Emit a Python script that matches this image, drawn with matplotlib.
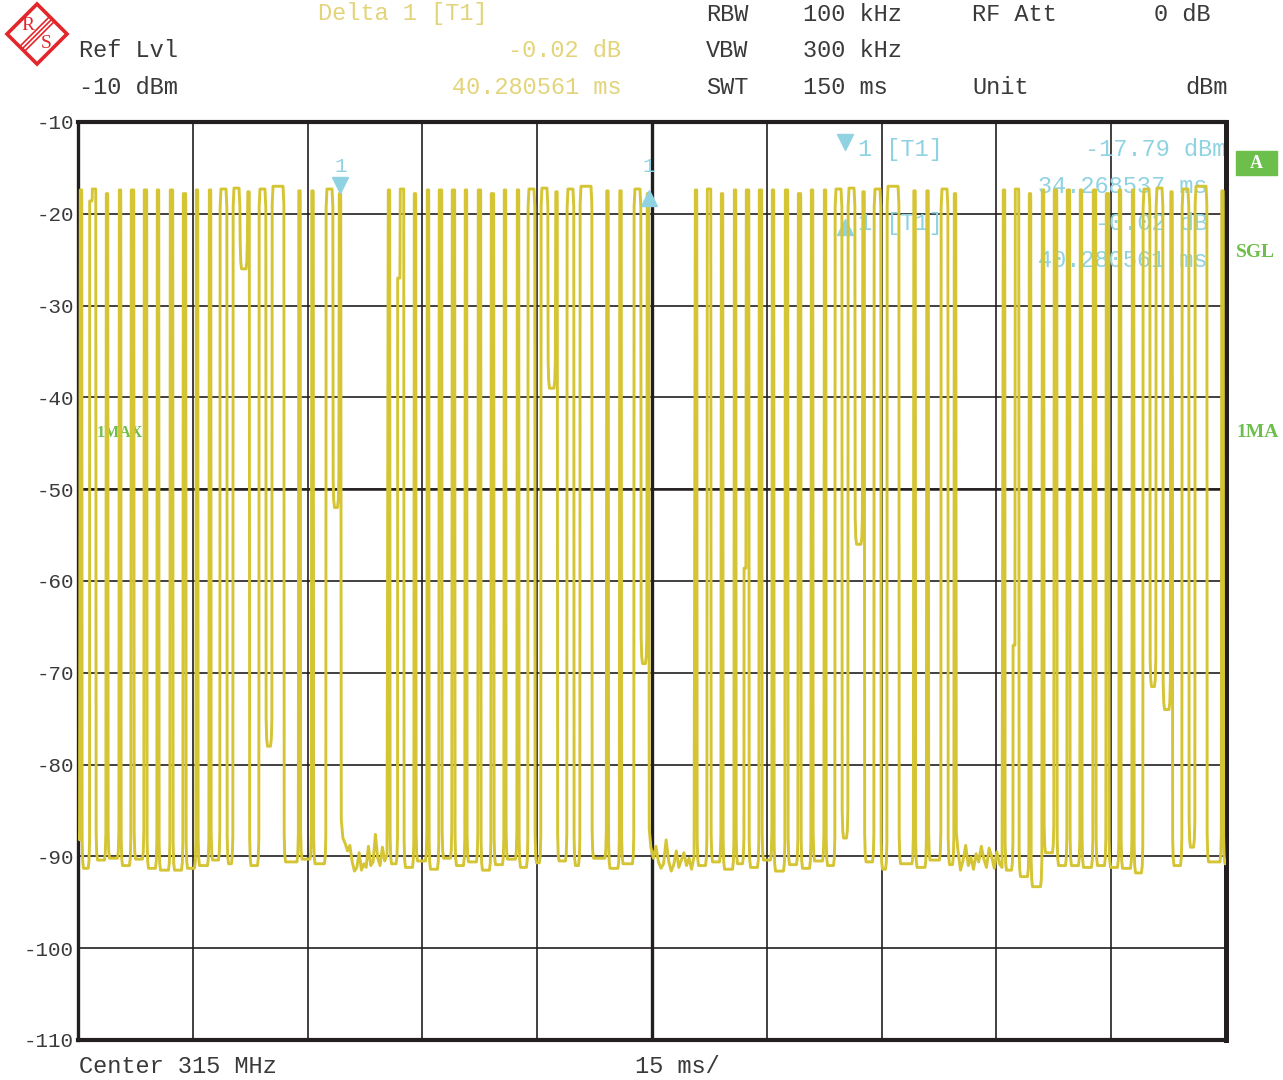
import numpy as np
import matplotlib.pyplot as plt
from matplotlib.patches import Polygon, Rectangle
from matplotlib.lines import Line2D

W, H = 1283, 1080

# sweep: 150 ms zero span, ref level -10 dBm, 100 dB range
span_ms = 150.0

# one telegram, times relative to the burst start (ms)
pulse_on = [0.13, 1.70, 3.53, 5.23, 6.79, 8.49, 10.19, 11.89, 13.59, 15.29,
            16.99, 18.42, 20.12, 22.02, 23.52, 25.22, 28.68, 30.38, 32.27, 33.97]
pulse_off = [0.39, 2.22, 3.79, 5.49, 7.19, 8.88, 10.45, 12.28, 13.98, 15.55,
             17.25, 19.34, 21.04, 22.28, 24.43, 26.79, 28.94, 30.64, 33.19, 34.23]
pulse_top = [-17.4, -17.3, -17.8, -17.4, -17.4, -17.4, -17.4, -17.4, -17.8, -17.4,
             -17.4, -17.3, -17.2, -17.6, -17.3, -17.0, -17.5, -17.5, -17.3, -17.8]

burst_start = [0.13, 40.37, 80.49, 120.73]

# lowest level reached in the gap after each pulse, per burst (dBm)
gap_floor_b1 = [-91.3, -90.4, -90.2, -91.0, -90.3, -91.3, -91.5, -91.5, -91.3, -91.0,
                -90.4, -90.8, -26.0, -91.0, -78.0, -90.6, -90.3, -90.8, -52.0]
gap_floor_b2 = [-90.8, -91.2, -90.5, -91.4, -90.2, -91.0, -90.6, -91.5, -90.9, -90.3,
                -91.2, -90.7, -39.0, -90.5, -91.0, -90.2, -91.3, -90.8, -69.0]
gap_floor_b3 = [-91.0, -90.6, -91.4, -90.8, -91.2, -90.4, -91.6, -90.9, -91.3, -90.5,
                -91.0, -88.0, -56.0, -90.6, -91.4, -90.8, -91.2, -90.4, -90.9]
gap_floor_b4 = [-91.5, -92.2, -93.3, -89.6, -91.0, -91.0, -91.2, -91.0, -91.2, -91.3,
                -91.8, -71.5, -74.0, -91.0, -89.0, -90.6, -90.8]
gap_floor = [gap_floor_b1, gap_floor_b2, gap_floor_b3, gap_floor_b4]

# rising edges that pause on a step: (burst, pulse) -> (level dBm, duration ms)
rise_step = {(0, 1): (-18.6, 0.30), (1, 1): (-27.0, 0.30),
             (2, 4): (-58.6, 0.25), (3, 1): (-67.0, 0.25)}

# noise floor between the bursts
lead_in = [-87.7, -88.2]
idle_1 = [-88.0, -88.6, -89.4, -88.8, -90.6, -91.6, -91.2, -89.6, -91.5, -90.8,
          -91.2, -88.9, -91.0, -90.6, -87.6, -90.2, -91.0, -89.0, -90.5, -89.8]
idle_2 = [-89.0, -90.2, -88.9, -90.6, -91.3, -90.8, -88.2, -90.5, -91.6, -90.9,
          -89.4, -91.2, -90.4, -89.6, -91.0, -90.2, -91.4, -90.0]
idle_3 = [-89.3, -91.5, -90.4, -88.8, -91.0, -90.1, -91.4, -89.7, -90.6, -88.9,
          -90.3, -91.2, -89.1, -90.0, -91.3, -89.5, -90.8, -91.2]
idle_noise = [idle_1, idle_2, idle_3]

marker_t = 34.268537
marker_lvl = -17.79
delta_t = 40.280561
delta_db = -0.02

trace_col = '#d5c535'
blue = '#8fd3e3'
green = '#6cbf4a'
txt_col = '#3a3a3a'
hdr_yel = '#e3d47a'
grid_col = '#231f20'

plt.rcParams['font.family'] = ['Liberation Mono', 'DejaVu Sans Mono', 'DejaVu Sans']

# build the trace vertex list
tt = [0.0, 0.2]
yy = list(lead_in)
for b, t0 in enumerate(burst_start):
    floors = gap_floor[b]
    for k in range(len(pulse_on)):
        ts = t0 + pulse_on[k]
        te = t0 + pulse_off[k]
        if ts > span_ms:
            break
        if (b, k) in rise_step:
            lvl, d = rise_step[(b, k)]
            tt += [ts - d, ts - 0.01]
            yy += [lvl, lvl]
        top = pulse_top[k]
        if te - ts > 0.6:
            tt += [ts + 0.02, ts + 0.13, te - 0.13, te - 0.02]
            yy += [top - 2.0, top, top, top - 2.0]
        else:
            # narrow pulse: steep edges close together, drawn as a solid bar
            tt += [ts + 0.03, ts + 0.04, te - 0.04, te - 0.03]
            yy += [top - 1.0, top, top, top - 1.0]
        if k < len(pulse_on) - 1:
            ns = t0 + pulse_on[k + 1]
            if (b, k + 1) in rise_step:
                ns -= rise_step[(b, k + 1)][1]
            fl = floors[k] if k < len(floors) else floors[-1]
            tt += [te + 0.02, te + 0.09, te + 0.2, ns - 0.2, ns - 0.09, ns - 0.02]
            yy += [fl + 3.0, fl + 0.8, fl, fl, fl + 0.8, fl + 3.0]
        elif b < len(idle_noise):
            ns = burst_start[b + 1] + pulse_on[0]
            noise = idle_noise[b]
            tt += [te + 0.04] + list(np.linspace(te + 0.25, ns - 0.12, len(noise)))
            yy += [noise[0] + 2.0] + list(noise)

fig = plt.figure(figsize=(W / 100, H / 100), dpi=100)
fig.patch.set_facecolor('white')
ax = fig.add_axes([78 / W, 1 - 1040 / H, (1226 - 78) / W, (1040 - 122) / H])
ax.set_xlim(0, span_ms)
ax.set_ylim(-110, -10)
ax.set_xticks(np.arange(0, 151, 15))
ax.set_xticklabels([])
yt = np.arange(-110, -9, 10)
ax.set_yticks(yt)
ax.set_yticklabels([str(v) for v in yt], fontsize=15, color=txt_col)
ax.tick_params(length=0, pad=3)
ax.grid(True, color=grid_col, lw=1.2, zorder=0)
ax.set_axisbelow(True)
ax.axvline(75, color=grid_col, lw=2.4, zorder=0.5)
ax.axhline(-50, color=grid_col, lw=1.8, zorder=0.5)
for side, w in [('top', 3.0), ('left', 2.4), ('right', 3.6), ('bottom', 3.0)]:
    ax.spines[side].set_linewidth(w)
    ax.spines[side].set_color(grid_col)

ax.plot(tt, yy, color=trace_col, lw=2.1, zorder=3, solid_joinstyle='round')


def P(x, y):
    return x / W, 1 - y / H


def ftxt(x, y, s, **kw):
    # text placed in screen pixels, kept under the trace
    ax.text(*P(x, y), s, transform=fig.transFigure, zorder=1, **kw)


# markers on the trace
delta_abs = marker_t + delta_t
ax.plot([marker_t], [-16.9], marker='v', ms=11, color=blue, zorder=4, clip_on=False)
ax.plot([delta_abs], [-18.3], marker='^', ms=11, color=blue, zorder=4, clip_on=False)
ax.text(marker_t, -14.9, '1', ha='center', va='center', fontsize=15, color=blue, zorder=1)
ax.text(delta_abs, -14.9, '1', ha='center', va='center', fontsize=15, color=blue, zorder=1)

# marker readout inside the grid
ax.add_line(Line2D([845 / W], [1 - 142 / H], transform=fig.transFigure, marker='v',
                   ms=11, color=blue, lw=0, zorder=1))
ax.add_line(Line2D([845 / W], [1 - 227 / H], transform=fig.transFigure, marker='^',
                   ms=11, color=blue, lw=0, zorder=1))
ftxt(858, 156, '1 [T1]', fontsize=17, color=blue, va='baseline')
ftxt(1226, 156, f'{marker_lvl:.2f} dBm', fontsize=17, color=blue, va='baseline', ha='right')
ftxt(1207, 193, f'{marker_t:.6f} ms', fontsize=17, color=blue, va='baseline', ha='right')
ftxt(858, 230, '1 [T1]', fontsize=17, color=blue, va='baseline')
ftxt(1208, 230, f'{delta_db:.2f} dB', fontsize=17, color=blue, va='baseline', ha='right')
ftxt(1207, 267, f'{delta_t:.6f} ms', fontsize=17, color=blue, va='baseline', ha='right')
ftxt(97, 437, '1MAX', fontsize=11.5, color=green, va='baseline', family='Liberation Serif',
     weight='bold')

# header
hdr = dict(fontsize=17, va='baseline')
fig.text(*P(318, 20), 'Delta 1 [T1]', color=hdr_yel, **hdr)
fig.text(*P(621, 57), f'{delta_db:.2f} dB', color=hdr_yel, ha='right', **hdr)
fig.text(*P(621, 94), f'{delta_t:.6f} ms', color=hdr_yel, ha='right', **hdr)
fig.text(*P(79, 57), 'Ref Lvl', color=txt_col, **hdr)
fig.text(*P(79, 94), '-10 dBm', color=txt_col, **hdr)
fig.text(*P(706, 21), 'RBW', color=txt_col, **hdr)
fig.text(*P(803, 21), '100 kHz', color=txt_col, **hdr)
fig.text(*P(972, 21), 'RF Att', color=txt_col, **hdr)
fig.text(*P(1211, 21), '0 dB', color=txt_col, ha='right', **hdr)
fig.text(*P(706, 57), 'VBW', color=txt_col, **hdr)
fig.text(*P(803, 57), '300 kHz', color=txt_col, **hdr)
fig.text(*P(706, 94), 'SWT', color=txt_col, **hdr)
fig.text(*P(803, 94), '150 ms', color=txt_col, **hdr)
fig.text(*P(972, 94), 'Unit', color=txt_col, **hdr)
fig.text(*P(1228, 94), 'dBm', color=txt_col, ha='right', **hdr)
fig.text(*P(79, 1073), 'Center 315 MHz', color=txt_col, **hdr)
fig.text(*P(635, 1073), '15 ms/', color=txt_col, **hdr)

# side labels
fig.patches.append(Rectangle(P(1236, 175), 41 / W, 24 / H, transform=fig.transFigure,
                             color=green, zorder=1))
fig.text(*P(1256, 163), 'A', color='white', fontsize=13, weight='bold', ha='center',
         va='center', family='Liberation Serif')
fig.text(*P(1236, 257), 'SGL', color=green, fontsize=14, weight='bold', va='baseline',
         family='Liberation Serif')
fig.text(*P(1236, 437), '1MA', color=green, fontsize=14, weight='bold', va='baseline',
         family='Liberation Serif')

# R&S logo
red = '#e3262c'
cx, cy, r = 37, 34, 30
fig.patches.append(Polygon([P(cx - r, cy), P(cx, cy - r), P(cx + r, cy), P(cx, cy + r)],
                           closed=True, fill=False, ec=red, lw=2.6,
                           transform=fig.transFigure))
for o in (-3.4, 0, 3.4):
    ox, oy = cx + o / np.sqrt(2), cy + o / np.sqrt(2)
    L = 20.5 / np.sqrt(2)
    fig.lines.append(Line2D([P(ox - L, oy + L)[0], P(ox + L, oy - L)[0]],
                            [P(ox - L, oy + L)[1], P(ox + L, oy - L)[1]],
                            transform=fig.transFigure, color=red, lw=1.2))
fig.text(*P(28, 25), 'R', color=red, fontsize=14, ha='center', va='center',
         family='Liberation Serif')
fig.text(*P(46, 43), 'S', color=red, fontsize=14, ha='center', va='center',
         family='Liberation Serif')

fig.savefig('out.png', dpi=100, facecolor='white')
